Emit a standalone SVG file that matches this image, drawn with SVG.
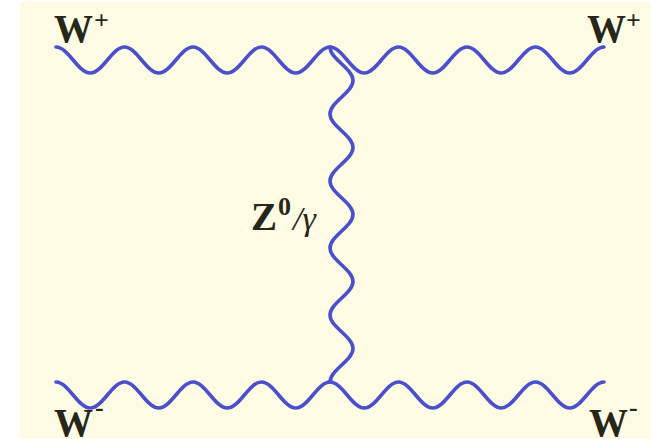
<svg xmlns="http://www.w3.org/2000/svg" xmlns:xlink="http://www.w3.org/1999/xlink" width="651" height="439" viewBox="0 0 651 439">
<style>
.boson{fill:none;stroke:#4a4fcc;stroke-width:3.6;stroke-linecap:round;stroke-linejoin:round}
.lbl{font-family:"Liberation Serif","Times New Roman",serif;font-weight:bold;fill:#26261a}
.big{font-size:39px}
.sup{font-size:26px}
</style>
<defs>
<path id="hwave" d="M56,47 C68.45,47 77.8,73 90.25,73 S112.05,47 124.5,47 S146.3,73 158.75,73 S180.55,47 193,47 S214.8,73 227.25,73 S249.05,47 261.5,47 S283.3,73 295.75,73 S317.55,47 330,47 S351.8,73 364.25,73 S386.05,47 398.5,47 S420.3,73 432.75,73 S454.55,47 467,47 S488.8,73 501.25,73 S523.05,47 535.5,47 S557.3,73 569.75,73 S591.55,47 604,47"/>
</defs>
<rect x="0" y="0" width="651" height="439" fill="#ffffff"/>
<rect x="20" y="2" width="631" height="437" fill="#fdfbe3"/>
<g id="connectors">
<use xlink:href="#hwave" href="#hwave" class="boson"/>
<use xlink:href="#hwave" href="#hwave" class="boson" transform="translate(0,335)"/>
<path class="boson" d="M330,47 C330,59.17 353,68.33 353,80.5 S330,101.83 330,114 S353,135.33 353,147.5 S330,168.83 330,181 S353,202.33 353,214.5 S330,235.83 330,248 S353,269.33 353,281.5 S330,302.83 330,315 S353,336.33 353,348.5 S330,369.83 330,382"/>
</g>
<g id="w-plus-left">
<text class="lbl" x="54" y="42"><tspan class="big">W</tspan><tspan class="sup" dx="1" dy="-13">+</tspan></text>
</g>
<g id="w-plus-right">
<text class="lbl" x="587" y="42"><tspan class="big">W</tspan><tspan class="sup" dx="0" dy="-13">+</tspan></text>
</g>
<g id="w-minus-left">
<text class="lbl" x="54" y="436"><tspan class="big">W</tspan><tspan class="sup" dx="2" dy="-20">-</tspan></text>
</g>
<g id="w-minus-right">
<text class="lbl" x="589" y="436"><tspan class="big">W</tspan><tspan class="sup" dx="1" dy="-20">-</tspan></text>
</g>
<g id="z-gamma">
<text class="lbl" x="251" y="230"><tspan class="big">Z</tspan><tspan class="sup" dx="1" dy="-15">0</tspan><tspan dx="2" dy="15" style="font-size:34px;font-weight:normal;font-style:italic">/γ</tspan></text>
</g>
</svg>
